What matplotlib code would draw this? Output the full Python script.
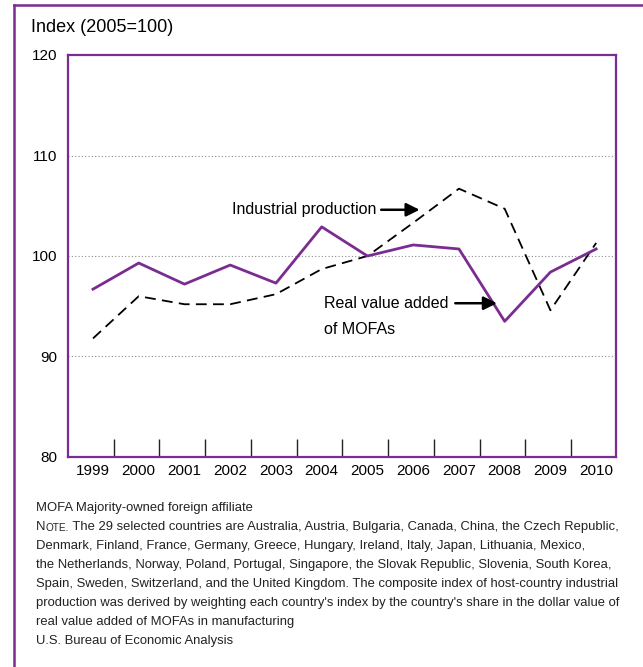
import matplotlib
matplotlib.use("Agg")
import matplotlib.pyplot as plt
from matplotlib.lines import Line2D

plt.rcParams['font.family'] = ['Liberation Sans', 'DejaVu Sans']

years = [1999, 2000, 2001, 2002, 2003, 2004, 2005, 2006, 2007, 2008, 2009, 2010]
mofa_value_added = [96.7, 99.3, 97.2, 99.1, 97.3, 102.9, 100.0, 101.1, 100.7, 93.5, 98.4, 100.7]
industrial_prod = [91.8, 96.0, 95.2, 95.2, 96.2, 98.7, 100.0, 103.3, 106.7, 104.7, 94.6, 101.3]
y_ticks = [80, 90, 100, 110, 120]

purple = '#7b2c91'

fig = plt.figure(figsize=(6.43, 6.67), dpi=100)
W, H = 643.0, 667.0

# outer frame (only left and top edges are visible)
fig.add_artist(Line2D([14 / W, 14 / W], [0, 1 - 5 / H], color=purple, lw=1.8))
fig.add_artist(Line2D([14 / W, 1], [1 - 5 / H, 1 - 5 / H], color=purple, lw=1.8))

ax = fig.add_axes([68.3 / W, 1 - 457 / H, (616.3 - 68.3) / W, (457 - 55) / H])

ax.plot(years, industrial_prod, color='black', lw=1.3, linestyle=(0, (6, 3.5)))
ax.plot(years, mofa_value_added, color=purple, lw=2.0)

for g in [90, 100, 110]:
    ax.axhline(g, color='#8c8c8c', lw=0.8, linestyle=(0, (1, 2)), zorder=0)

ax.set_xlim(1998.46, 2010.44)
ax.set_ylim(80, 120)
ax.set_yticks(y_ticks)
ax.set_xticks(years)
ax.set_xticks([y + 0.45 for y in years[:-1]], minor=True)
ax.tick_params(axis='y', length=0, pad=8, labelsize=11)
ax.tick_params(axis='x', which='major', length=0, pad=5, labelsize=11)
ax.tick_params(axis='x', which='minor', direction='in', length=13, width=1, color='#222222')
for s in ax.spines.values():
    s.set_color(purple)
    s.set_linewidth(1.6)

# labels with arrows
arrow = dict(arrowstyle='-|>', color='black', lw=1.8, mutation_scale=20, shrinkA=0, shrinkB=0)
ax.text(2005.19, 104.6, "Industrial production", ha='right', va='center', fontsize=11.5)
ax.annotate('', xy=(2006.14, 104.6), xytext=(2005.3, 104.6), arrowprops=arrow)
ax.text(2004.05, 95.3, "Real value added", ha='left', va='center', fontsize=11.5)
ax.text(2004.05, 92.7, "of MOFAs", ha='left', va='center', fontsize=11.5)
ax.annotate('', xy=(2007.83, 95.3), xytext=(2006.92, 95.3), arrowprops=arrow)

fig.text(31 / W, 1 - 28 / H, "Index (2005=100)", ha='left', va='center', fontsize=13)

# footnotes
fx = 36 / W
fs = 9.4
fig.text(fx, 1 - 507.7 / H, "MOFA Majority-owned foreign affiliate", fontsize=fs, va='center', color='#222222')
t1 = fig.text(fx, 1 - 526.7 / H, "N", fontsize=fs, va='center', color='#222222')
t2 = ax.annotate("OTE.", xy=(1, 0), xycoords=t1, ha='left', va='bottom', fontsize=7.2, color='#222222',
                 annotation_clip=False)
ax.annotate(" The 29 selected countries are Australia, Austria, Bulgaria, Canada, China, the Czech Republic,",
            xy=(1, 0), xycoords=t2, ha='left', va='bottom', fontsize=fs, color='#222222', annotation_clip=False)
note_lines = [
    "Denmark, Finland, France, Germany, Greece, Hungary, Ireland, Italy, Japan, Lithuania, Mexico,",
    "the Netherlands, Norway, Poland, Portugal, Singapore, the Slovak Republic, Slovenia, South Korea,",
    "Spain, Sweden, Switzerland, and the United Kingdom. The composite index of host-country industrial",
    "production was derived by weighting each country's index by the country's share in the dollar value of",
    "real value added of MOFAs in manufacturing",
]
note_y = [546, 565, 584, 603, 622]
for line, yy in zip(note_lines, note_y):
    fig.text(fx, 1 - yy / H, line, fontsize=fs, va='center', color='#222222')
fig.text(fx, 1 - 641 / H, "U.S. Bureau of Economic Analysis", fontsize=fs, va='center', color='#222222')

fig.savefig("out.png", dpi=100)
